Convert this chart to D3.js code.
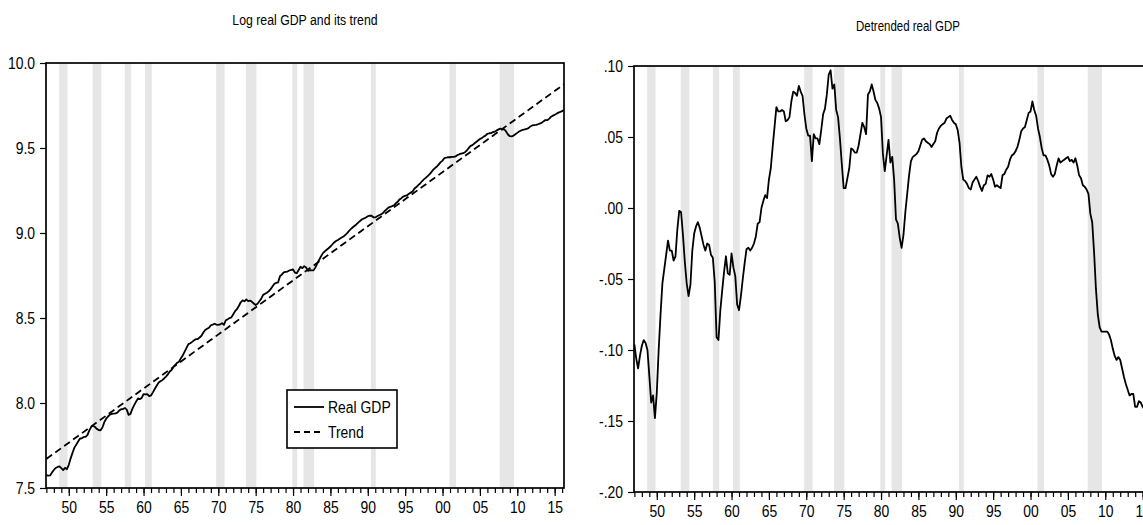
<!DOCTYPE html>
<html><head><meta charset="utf-8">
<script src="https://cdn.jsdelivr.net/npm/d3@7"></script>
<style>
body{margin:0;background:#fff;overflow:hidden;}
text{font-family:"Liberation Sans",Arial,sans-serif;fill:#000;}
</style></head><body>
<svg id="c" width="1143" height="525"></svg>
<script>
// ---- data (quarterly, starting 1947Q1) ----
const startYear = 1947;
const gap = [
-0.096,-0.106,-0.113,-0.104, -0.097,-0.093,-0.095,-0.100, -0.118,-0.137,-0.132,-0.148,
-0.130,-0.100,-0.075,-0.053, -0.043,-0.033,-0.023,-0.030, -0.030,-0.037,-0.034,-0.015,
-0.002,-0.003,-0.019,-0.038, -0.053,-0.062,-0.054,-0.030, -0.018,-0.013,-0.010,-0.014,
-0.020,-0.026,-0.030,-0.025, -0.026,-0.033,-0.035,-0.052, -0.091,-0.093,-0.072,-0.058,
-0.045,-0.034,-0.046,-0.047, -0.032,-0.042,-0.048,-0.068, -0.072,-0.062,-0.050,-0.039,
-0.029,-0.028,-0.030,-0.028, -0.025,-0.020,-0.011,-0.010, 0.000,0.005,0.009,0.007,
0.020,0.028,0.043,0.057, 0.071,0.068,0.068,0.069, 0.068,0.061,0.062,0.064,
0.075,0.082,0.081,0.079, 0.086,0.082,0.079,0.066, 0.056,0.051,0.051,0.033,
0.052,0.049,0.049,0.045, 0.055,0.066,0.070,0.080, 0.094,0.097,0.084,0.087,
0.069,0.064,0.049,0.031, 0.014,0.014,0.021,0.028, 0.042,0.041,0.039,0.039,
0.044,0.052,0.060,0.057, 0.052,0.080,0.082,0.087, 0.082,0.076,0.074,0.070,
0.064,0.038,0.026,0.037, 0.048,0.032,0.036,0.020, -0.008,-0.011,-0.021,-0.028,
-0.019,-0.003,0.010,0.023, 0.033,0.036,0.037,0.038, 0.040,0.044,0.048,0.049,
0.047,0.046,0.045,0.043, 0.045,0.047,0.053,0.056, 0.058,0.059,0.060,0.063,
0.064,0.065,0.062,0.060, 0.059,0.055,0.046,0.029, 0.020,0.019,0.017,0.014,
0.013,0.018,0.020,0.022, 0.019,0.015,0.012,0.016, 0.017,0.023,0.022,0.024,
0.020,0.015,0.016,0.015, 0.014,0.023,0.024,0.027, 0.029,0.034,0.037,0.038,
0.040,0.043,0.048,0.054, 0.056,0.057,0.062,0.067, 0.068,0.075,0.069,0.065,
0.056,0.050,0.042,0.037, 0.037,0.034,0.030,0.024, 0.022,0.024,0.030,0.035,
0.032,0.033,0.034,0.035, 0.036,0.033,0.034,0.032, 0.035,0.030,0.023,0.021,
0.016,0.015,0.013,0.010, -0.004,-0.010,-0.031,-0.057, -0.075,-0.084,-0.087,-0.087,
-0.087,-0.087,-0.089,-0.093, -0.099,-0.104,-0.107,-0.105, -0.107,-0.113,-0.119,-0.124,
-0.128,-0.132,-0.131,-0.131, -0.140,-0.140,-0.136,-0.137, -0.140,-0.142,-0.143,-0.147,
-0.150,-0.152
];
// linear trend end points (log level) at first and last quarter
const trendEnds = [7.671, 9.875];
// recession shading (start, end in years)
const recessions = [[1948.72,1949.83],[1953.2,1954.35],[1957.5,1958.35],[1960.2,1961.1],
  [1969.72,1970.84],[1973.7,1975.1],[1979.9,1980.55],[1981.4,1982.82],[1990.42,1991.07],
  [2000.92,2001.8],[2007.65,2009.56]];
const majorYears = [1950,1955,1960,1965,1970,1975,1980,1985,1990,1995,2000,2005,2010,2015];
const leftYTicks = [7.5,8.0,8.5,9.0,9.5,10.0];
const rightYTicks = [-0.20,-0.15,-0.10,-0.05,0.00,0.05,0.10];
const legendLabels = ["Real GDP","Trend"];

// ---- derived ----
const dates = gap.map((_, i) => startYear + i / 4);
const t0 = dates[0], tN = dates[dates.length - 1];
const trendPts = [[t0, trendEnds[0]], [tN, trendEnds[1]]];
const trendAt = t => trendEnds[0] + (trendEnds[1] - trendEnds[0]) * (t - t0) / (tN - t0);
const gdp = dates.map((t, i) => [t, trendAt(t) + gap[i]]);
const gapPts = dates.map((t, i) => [t, gap[i]]);

const svg = d3.select("#c");
const xDomain = [1946.95, 2016.25];

function panel(opt) {
  const x = d3.scaleLinear().domain(xDomain).range([opt.x0, opt.x1]);
  const y = d3.scaleLinear().domain(opt.yDomain).range([opt.y1, opt.y0]);
  const g = svg.append("g");
  const cid = "clip" + opt.id;
  g.append("clipPath").attr("id", cid).append("rect")
    .attr("x", opt.x0).attr("y", opt.y0).attr("width", opt.x1 - opt.x0).attr("height", opt.y1 - opt.y0);
  const pg = g.append("g").attr("clip-path", `url(#${cid})`);
  pg.selectAll("rect.rec").data(recessions).join("rect").attr("class", "rec")
    .attr("x", d => x(d[0])).attr("width", d => x(d[1]) - x(d[0]))
    .attr("y", opt.y0).attr("height", opt.y1 - opt.y0).attr("fill", "#e6e6e6");
  const line = d3.line().x(d => x(d[0])).y(d => y(d[1]));
  opt.series.forEach(s => {
    pg.append("path").attr("d", line(s.data)).attr("fill", "none")
      .attr("stroke", "#000").attr("stroke-width", 1.8)
      .attr("stroke-dasharray", s.dash || null).attr("stroke-linejoin", "round");
  });
  g.append("rect").attr("x", opt.x0).attr("y", opt.y0).attr("width", opt.x1 - opt.x0)
    .attr("height", opt.y1 - opt.y0).attr("fill", "none").attr("stroke", "#000").attr("stroke-width", 1.7);
  const minor = d3.range(1947, 2017);
  g.append("g").attr("transform", `translate(0,${opt.y1})`)
    .call(d3.axisBottom(x).tickValues(minor).tickSize(5).tickSizeOuter(0).tickFormat(""))
    .call(a => a.select(".domain").remove())
    .call(a => a.selectAll("line").attr("stroke-width", 1.2));
  g.append("g").attr("transform", `translate(0,${opt.y1})`)
    .call(d3.axisBottom(x).tickValues(majorYears).tickSize(8).tickSizeOuter(0).tickPadding(5)
      .tickFormat(d => String(d % 100).padStart(2, "0")))
    .call(a => a.select(".domain").remove())
    .call(a => a.selectAll("line").attr("stroke-width", 1.2))
    .call(a => a.selectAll("text").attr("font-size", 17).style("font-family", null));
  g.append("g").attr("transform", `translate(${opt.x0},0)`)
    .call(d3.axisLeft(y).tickValues(opt.yTicks).tickSize(6).tickSizeOuter(0).tickPadding(5).tickFormat(opt.fmt))
    .call(a => a.select(".domain").remove())
    .call(a => a.selectAll("line").attr("stroke-width", 1.2))
    .call(a => a.selectAll("text").attr("font-size", 17).style("font-family", null));
  g.append("text").attr("x", opt.titleX).attr("y", opt.titleY).attr("text-anchor", "middle")
    .attr("font-size", opt.titleSize).text(opt.title);
  return {x, y, g};
}

const L = panel({id: "L", x0: 46, x1: 564, y0: 63, y1: 488, yDomain: [7.5, 10.0], yTicks: leftYTicks,
  fmt: d3.format(".1f"), title: "Log real GDP and its trend", titleX: 305, titleY: 25, titleSize: 15,
  series: [{data: gdp}, {data: trendPts, dash: "7,4"}]});

const fmtR = d => (d < 0 ? "-" : "") + Math.abs(d).toFixed(2).replace(/^0/, "");
const R = panel({id: "R", x0: 634, x1: 1152, y0: 66, y1: 492, yDomain: [-0.20, 0.10], yTicks: rightYTicks,
  fmt: fmtR, title: "Detrended real GDP", titleX: 908, titleY: 31, titleSize: 14,
  series: [{data: gapPts}]});

// legend
const lg = svg.append("g");
lg.append("rect").attr("x", 287).attr("y", 390).attr("width", 110).attr("height", 58)
  .attr("fill", "#fff").attr("stroke", "#000").attr("stroke-width", 1.6);
const legendRows = [{label: legendLabels[0], dash: null, y: 407}, {label: legendLabels[1], dash: "6,4", y: 432}];
legendRows.forEach(r => {
  lg.append("line").attr("x1", 294).attr("x2", 324).attr("y1", r.y).attr("y2", r.y)
    .attr("stroke", "#000").attr("stroke-width", 1.8).attr("stroke-dasharray", r.dash);
  lg.append("text").attr("x", 328).attr("y", r.y + 6).attr("font-size", 17).text(r.label);
});

// condensed (narrow) rendering of all text, scaled about each text's anchor point
svg.selectAll("text").each(function () {
  const t = d3.select(this);
  const ax = +t.attr("x") || 0, ay = +t.attr("y") || 0;
  t.attr("transform", `translate(${ax},${ay}) scale(0.82,1) translate(${-ax},${-ay})`);
});
</script>
</body></html>
